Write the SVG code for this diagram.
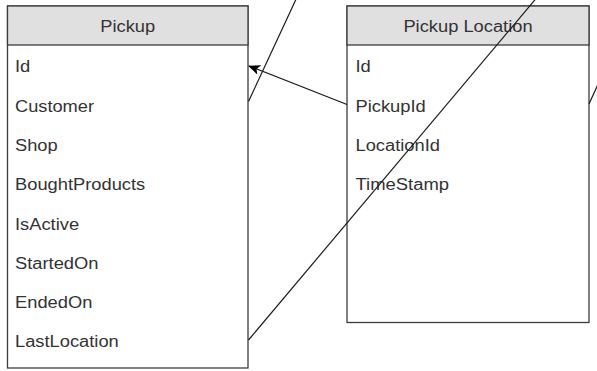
<svg xmlns="http://www.w3.org/2000/svg" width="597" height="371" viewBox="0 0 597 371">
<style>
.box{fill:#ffffff;stroke:#3c3c3c;stroke-width:1.3}
.hdr{fill:#e0e0e0;stroke:#3c3c3c;stroke-width:1.3}
.t{font-family:"Liberation Sans",Arial,sans-serif;font-size:16px;fill:#333333}
.h{text-anchor:middle}
.ln{fill:none;stroke:#1a1a1a;stroke-width:1.2}
</style>
<defs>
<marker id="arr" viewBox="0 0 12 10" refX="11" refY="5" markerWidth="12" markerHeight="10" markerUnits="userSpaceOnUse" orient="auto">
<path d="M0,0 L12,5 L0,10 L3,5 Z" fill="#000000"/>
</marker>
</defs>
<rect width="597" height="371" fill="#ffffff"/>
<g id="pickup">
<rect class="box" x="7.5" y="6" width="240.5" height="362"/>
<rect class="hdr" x="7.5" y="6" width="240.5" height="39"/>
<text class="t h" x="127.7" y="31.5" textLength="54.9" lengthAdjust="spacingAndGlyphs">Pickup</text>
<text class="t" x="15" y="72.3" textLength="15.3" lengthAdjust="spacingAndGlyphs">Id</text>
<text class="t" x="15" y="111.6" textLength="79" lengthAdjust="spacingAndGlyphs">Customer</text>
<text class="t" x="15" y="150.9" textLength="42.7" lengthAdjust="spacingAndGlyphs">Shop</text>
<text class="t" x="15" y="190.2" textLength="130.2" lengthAdjust="spacingAndGlyphs">BoughtProducts</text>
<text class="t" x="15" y="229.5" textLength="64.1" lengthAdjust="spacingAndGlyphs">IsActive</text>
<text class="t" x="15" y="268.8" textLength="83.4" lengthAdjust="spacingAndGlyphs">StartedOn</text>
<text class="t" x="15" y="308.1" textLength="77.3" lengthAdjust="spacingAndGlyphs">EndedOn</text>
<text class="t" x="15" y="347.4" textLength="103.8" lengthAdjust="spacingAndGlyphs">LastLocation</text>
</g>
<g id="pickup-location">
<rect class="box" x="347" y="6" width="242" height="316.5"/>
<rect class="hdr" x="347" y="6" width="242" height="39"/>
<text class="t h" x="468" y="31.5" textLength="129.2" lengthAdjust="spacingAndGlyphs">Pickup Location</text>
<text class="t" x="355.5" y="72.3" textLength="15.3" lengthAdjust="spacingAndGlyphs">Id</text>
<text class="t" x="355.5" y="111.6" textLength="70.2" lengthAdjust="spacingAndGlyphs">PickupId</text>
<text class="t" x="355.5" y="150.9" textLength="84.4" lengthAdjust="spacingAndGlyphs">LocationId</text>
<text class="t" x="355.5" y="190.2" textLength="93.5" lengthAdjust="spacingAndGlyphs">TimeStamp</text>
</g>
<g id="connectors">
<line class="ln" x1="298" y1="-5" x2="248.5" y2="101.5"/>
<line class="ln" x1="347" y1="104.5" x2="249" y2="66" marker-end="url(#arr)"/>
<line class="ln" x1="248.5" y1="340" x2="539" y2="-5"/>
<line class="ln" x1="589" y1="104" x2="600" y2="80"/>
</g>
</svg>
